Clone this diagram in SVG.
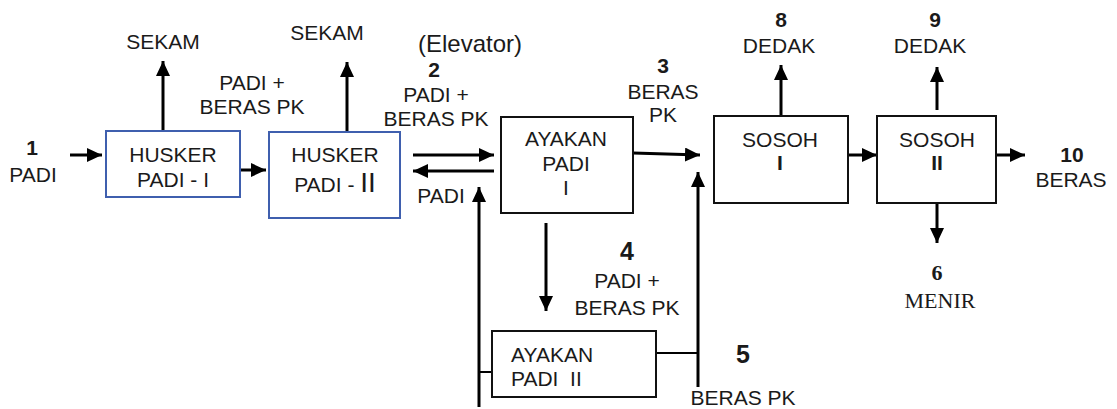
<svg xmlns="http://www.w3.org/2000/svg" width="1117" height="409" viewBox="0 0 1117 409">
<style>
.t{font-family:"Liberation Sans",Arial,sans-serif;font-size:21px;fill:#1a1a1a;text-anchor:middle}
.n{font-weight:bold}
.big{font-size:25px}
.el{font-size:24px}
.tm{font-family:"Liberation Serif","Times New Roman",serif;font-size:22px;fill:#1a1a1a;text-anchor:middle}
.bb{fill:#fff;stroke:#3f5fae;stroke-width:2}
.bk{fill:#fff;stroke:#111;stroke-width:2}
.a{stroke:#000;stroke-width:3;fill:none;marker-end:url(#ah)}
.l{stroke:#000;stroke-width:3;fill:none}
.ls{stroke:#000;stroke-width:2;fill:none}
</style>
<defs>
<marker id="ah" markerUnits="userSpaceOnUse" markerWidth="15" markerHeight="14" refX="15" refY="7" orient="auto">
<path d="M0,0 L15,7 L0,14 z" fill="#000"/>
</marker>
</defs>
<rect width="1117" height="409" fill="#fff"/>

<g id="connectors">
<line class="a" x1="70" y1="155" x2="102" y2="155"/>
<line class="a" x1="163" y1="131" x2="163" y2="61"/>
<line class="a" x1="240" y1="170" x2="266" y2="170"/>
<line class="a" x1="347" y1="132" x2="347" y2="62"/>
<line class="a" x1="413" y1="155" x2="494" y2="155"/>
<line class="a" x1="494" y1="171" x2="413" y2="171"/>
<polyline class="l" points="479,407 479,200"/>
<line class="a" x1="479" y1="202" x2="479" y2="187"/>
<line class="ls" x1="479" y1="372" x2="492" y2="372"/>
<line class="a" x1="633" y1="153" x2="700" y2="155"/>
<line class="a" x1="546" y1="223" x2="546" y2="311"/>
<line class="ls" x1="656" y1="353" x2="698" y2="353"/>
<line class="a" x1="698" y1="387" x2="698" y2="172"/>
<line class="a" x1="781" y1="116" x2="781" y2="65"/>
<line class="a" x1="848" y1="155" x2="877" y2="155"/>
<line class="a" x1="937" y1="110" x2="937" y2="67"/>
<line class="a" x1="996" y1="155" x2="1025" y2="155"/>
<line class="a" x1="937" y1="197" x2="937" y2="243"/>
</g>

<g id="husker1">
<rect class="bb" x="106" y="131" width="134" height="66"/>
<text class="t" x="173" y="162">HUSKER</text>
<text class="t" x="173" y="187">PADI - I</text>
</g>

<g id="husker2">
<rect class="bb" x="269" y="132" width="131" height="86"/>
<text class="t" x="335" y="162">HUSKER</text>
<text class="t" x="335" y="192">PADI - <tspan style="font-size:28px">II</tspan></text>
</g>

<g id="ayakan1">
<rect class="bk" x="501" y="117" width="132" height="96"/>
<text class="t" x="566" y="146">AYAKAN</text>
<text class="t" x="566" y="171">PADI</text>
<text class="t" x="566" y="195">I</text>
</g>

<g id="ayakan2">
<rect class="bk" x="492" y="331" width="164" height="66"/>
<text class="t" x="511" y="362" style="text-anchor:start">AYAKAN</text>
<text class="t" x="511" y="386" style="text-anchor:start" xml:space="preserve">PADI  II</text>
</g>

<g id="sosoh1">
<rect class="bk" x="714" y="116" width="134" height="87"/>
<text class="t" x="780" y="147">SOSOH</text>
<text class="t n" x="780" y="170">I</text>
</g>

<g id="sosoh2">
<rect class="bk" x="877" y="116" width="119" height="87"/>
<text class="t" x="937" y="147">SOSOH</text>
<text class="t n" x="937" y="170">II</text>
</g>

<g id="labels">
<text class="t n" x="32" y="155">1</text>
<text class="t" x="33" y="182">PADI</text>
<text class="t" x="163" y="49">SEKAM</text>
<text class="t" x="327" y="40">SEKAM</text>
<text class="t" x="252" y="90">PADI +</text>
<text class="t" x="252" y="114">BERAS PK</text>
<text class="t el" x="470" y="52">(Elevator)</text>
<text class="t n" x="434" y="77">2</text>
<text class="t" x="436" y="102">PADI +</text>
<text class="t" x="436" y="126">BERAS PK</text>
<text class="t" x="441" y="203">PADI</text>
<text class="t n" x="663" y="73">3</text>
<text class="t" x="663" y="99">BERAS</text>
<text class="t" x="663" y="122">PK</text>
<text class="t n big" x="627" y="260">4</text>
<text class="t" x="627" y="288">PADI +</text>
<text class="t" x="627" y="315">BERAS PK</text>
<text class="t n big" x="743" y="363">5</text>
<text class="t" x="743" y="405">BERAS PK</text>
<text class="t n" x="781" y="27">8</text>
<text class="t" x="779" y="53">DEDAK</text>
<text class="t n" x="935" y="27">9</text>
<text class="t" x="930" y="53">DEDAK</text>
<text class="t n" x="1072" y="162">10</text>
<text class="t" x="1071" y="187">BERAS</text>
<text class="tm n" x="937" y="280">6</text>
<text class="tm" x="940" y="308">MENIR</text>
</g>
</svg>
